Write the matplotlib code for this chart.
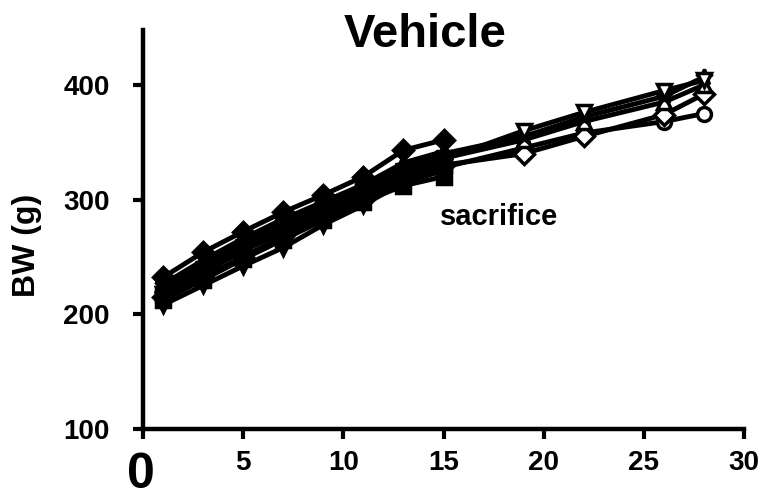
#!/usr/bin/env python3
# Vehicle group body weight curves
import matplotlib
matplotlib.use('Agg')
import matplotlib.pyplot as plt

plt.rcParams['font.family'] = ['Liberation Sans', 'DejaVu Sans']
plt.rcParams['font.weight'] = 'bold'

# Days of measurement
days_full = [1, 3, 5, 7, 9, 11, 13, 15, 19, 22, 26, 28]
days_sac = [1, 3, 5, 7, 9, 11, 13, 15]

# Body weight (g) per rat
rat_tri_down = [218, 236, 255, 272, 290, 305, 322, 335, 360, 376, 395, 404]
rat_star = [225, 243, 262, 280, 296, 312, 328, 340, 355, 372, 390, 407]
rat_tri_up = [222, 240, 258, 276, 292, 308, 325, 336, 352, 368, 385, 400]
rat_diamond_open = [215, 232, 250, 268, 285, 300, 318, 330, 340, 355, 374, 392]
rat_circle = [220, 238, 256, 272, 288, 302, 318, 328, 345, 358, 368, 375]
rat_diamond = [232, 254, 272, 289, 304, 320, 343, 352]
rat_square = [212, 230, 248, 265, 282, 298, 312, 320]
rat_tri_down_f = [208, 225, 242, 258, 278, 295, 315, 325]
rat_tri_up_f = [226, 247, 266, 283, 298, 313, 332, 342]
rat_square_f = [218, 238, 257, 274, 290, 305, 320, 330]

full_series = [(rat_circle, 'o', 'white'), (rat_diamond_open, 'D', 'white'),
               (rat_tri_up, '^', 'white'), (rat_star, '*', 'white'),
               (rat_tri_down, 'v', 'white')]
sac_series = [(rat_diamond, 'D', 'black'), (rat_square, 's', 'black'),
              (rat_tri_down_f, 'v', 'black'), (rat_tri_up_f, '^', 'black'),
              (rat_square_f, 's', 'black')]

fig = plt.figure(figsize=(7.64, 4.98), dpi=100)
ax = fig.add_axes([0.187, 0.139, 0.787, 0.801])

# surviving rats first, then the sacrificed ones on top
for vals, mk, fc in full_series:
    ax.plot(days_full, vals, color='black', lw=3.5, marker=mk, ms=12 if mk == '*' else 10,
            mfc=fc, mec='black', mew=2.5)
for vals, mk, fc in sac_series:
    ax.plot(days_sac, vals, color='black', lw=3.5, marker=mk, ms=10,
            mfc=fc, mec='black', mew=2.5)

ax.set_xlim(0, 30)
ax.set_ylim(100, 448)
ax.set_xticks([0, 5, 10, 15, 20, 25, 30])
ax.set_xticklabels(['', '5', '10', '15', '20', '25', '30'])
ax.set_yticks([100, 200, 300, 400])
ax.tick_params(axis='both', direction='out', length=7, width=3)
ax.tick_params(axis='x', labelsize=20, pad=8)
ax.tick_params(axis='y', labelsize=20, pad=17)
for lbl in ax.get_xticklabels() + ax.get_yticklabels():
    lbl.set_fontweight('bold')

for side in ['top', 'right']:
    ax.spines[side].set_visible(False)
for side in ['left', 'bottom']:
    ax.spines[side].set_linewidth(3.2)

# big zero under the origin
ax.text(-0.1, -0.115, '0', transform=ax.get_xaxis_transform(), ha='center', va='center',
        fontsize=36, fontweight='bold')

ax.text(14.8, 285, 'sacrifice', fontsize=21, fontweight='bold', ha='left', va='center')
fig.text(0.035, 0.508, 'BW (g)', rotation=90, fontsize=23, fontweight='bold',
         ha='center', va='center')
fig.text(0.556, 0.93, 'Vehicle', fontsize=34, fontweight='bold', ha='center', va='center')

fig.savefig('out.png', dpi=100)
